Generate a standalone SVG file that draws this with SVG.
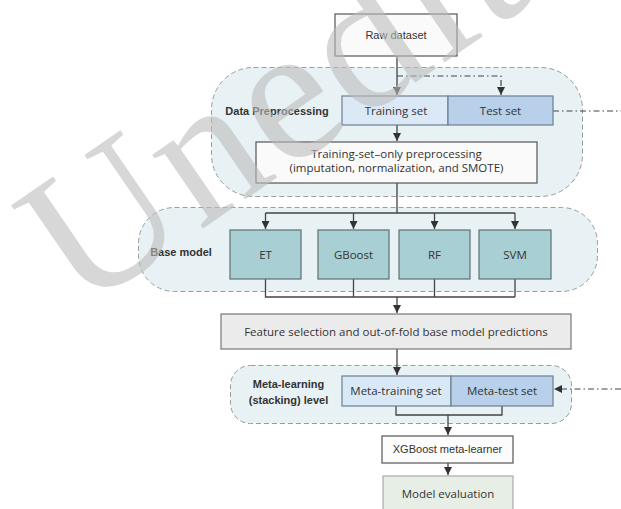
<svg xmlns="http://www.w3.org/2000/svg" width="621" height="509" viewBox="0 0 621 509">
<defs>
<marker id="ah" viewBox="0 0 10 10" refX="10" refY="5" markerWidth="8" markerHeight="8" markerUnits="userSpaceOnUse" orient="auto">
<path d="M0,0 L10,5 L0,10 z" fill="#333"/>
</marker>
<style>
.cl{fill:#e8f1f3;stroke:#9a9a9a;stroke-width:1;stroke-dasharray:5 3}
.ln{fill:none;stroke:#444;stroke-width:1.3}
.dd{fill:none;stroke:#444;stroke-width:1.2;stroke-dasharray:6 3 1.5 3}
.bx{stroke:#555;stroke-width:1.2}
.t{font-family:"Open Sans","Noto Sans",sans-serif;font-size:11.5px;fill:#333;text-anchor:middle}
.a{font-family:"Liberation Sans",Arial,sans-serif;font-size:11px;fill:#333;text-anchor:middle}
.b{font-family:"Liberation Sans",Arial,sans-serif;font-size:11px;font-weight:bold;fill:#333;text-anchor:middle}
.wm{font-family:"Liberation Serif","Times New Roman",serif;font-size:195px;letter-spacing:4px;fill:#bdbdbd;opacity:0.6}
</style>
</defs>
<rect width="621" height="509" fill="#fff"/>

<g id="cluster-preprocessing">
<rect class="cl" x="211.5" y="67.5" width="371" height="129" rx="42"/>
<text class="b" x="277" y="115">Data Preprocessing</text>
</g>
<g id="cluster-base">
<rect class="cl" x="138.5" y="207.5" width="459" height="84" rx="36"/>
<text class="b" x="181" y="256">Base model</text>
</g>
<g id="cluster-meta">
<rect class="cl" x="230.5" y="365.5" width="341" height="58" rx="20"/>
<text class="b" x="288.5" y="388">Meta-learning</text>
<text class="b" x="288.5" y="404">(stacking) level</text>
</g>

<g id="connectors">
<path class="ln" d="M397,56 V95" marker-end="url(#ah)"/>
<path class="dd" d="M397,76 H501 V95" marker-end="url(#ah)"/>
<path class="dd" d="M553,111 H621"/>
<path class="ln" d="M397,125 V141" marker-end="url(#ah)"/>
<path class="ln" d="M397,183 V213 M265.5,213 H515"/>
<path class="ln" d="M265.5,213 V229" marker-end="url(#ah)"/>
<path class="ln" d="M353.5,213 V229" marker-end="url(#ah)"/>
<path class="ln" d="M434.5,213 V229" marker-end="url(#ah)"/>
<path class="ln" d="M515,213 V229" marker-end="url(#ah)"/>
<path class="ln" d="M265.5,279 V297 H515 M353.5,279 V297 M434.5,279 V297 M515,279 V297"/>
<path class="ln" d="M397,297 V313" marker-end="url(#ah)"/>
<path class="ln" d="M397,349 V375" marker-end="url(#ah)"/>
<path class="dd" d="M621,389 H554" marker-end="url(#ah)"/>
<path class="ln" d="M396,406 V415 H502 V406"/>
<path class="ln" d="M448,415 V435" marker-end="url(#ah)"/>
<path class="ln" d="M448,463 V475" marker-end="url(#ah)"/>
</g>

<g id="raw-dataset">
<rect class="bx" x="335" y="14" width="122" height="42" fill="#fafafa"/>
<text class="a" x="396" y="39">Raw dataset</text>
</g>
<g id="training-set">
<rect x="342" y="96" width="106" height="29" fill="#dbe9f7" stroke="#6d7f92" stroke-width="1.2"/>
<text class="t" x="396" y="115">Training set</text>
</g>
<g id="test-set">
<rect x="448" y="96" width="105" height="29" fill="#b8d0e9" stroke="#6d7f92" stroke-width="1.2"/>
<text class="t" x="500.5" y="115">Test set</text>
</g>
<g id="preprocessing">
<rect class="bx" x="256" y="142" width="281" height="41" fill="#fafafa"/>
<text class="t" x="396.5" y="158">Training-set–only preprocessing</text>
<text class="t" x="396.5" y="172">(imputation, normalization, and SMOTE)</text>
</g>
<g id="et">
<rect x="230" y="230" width="71" height="49" fill="#a8cfd3" stroke="#5e7173" stroke-width="1.2"/>
<text class="t" x="265.5" y="259">ET</text>
</g>
<g id="gboost">
<rect x="318" y="230" width="71" height="49" fill="#a8cfd3" stroke="#5e7173" stroke-width="1.2"/>
<text class="t" x="353.5" y="259">GBoost</text>
</g>
<g id="rf">
<rect x="399" y="230" width="71" height="49" fill="#a8cfd3" stroke="#5e7173" stroke-width="1.2"/>
<text class="t" x="434.5" y="259">RF</text>
</g>
<g id="svm">
<rect x="479" y="230" width="72" height="49" fill="#a8cfd3" stroke="#5e7173" stroke-width="1.2"/>
<text class="t" x="515" y="259">SVM</text>
</g>
<g id="feature-selection">
<rect x="221" y="314" width="350" height="35" fill="#ebebeb" stroke="#777" stroke-width="1.2"/>
<text class="t" x="396" y="336">Feature selection and out-of-fold base model predictions</text>
</g>
<g id="meta-training">
<rect x="342" y="376" width="109" height="30" fill="#d9e8f7" stroke="#6d7f92" stroke-width="1.2"/>
<text class="t" x="396" y="395">Meta-training set</text>
</g>
<g id="meta-test">
<rect x="451" y="376" width="102" height="30" fill="#b8d0e9" stroke="#6d7f92" stroke-width="1.2"/>
<text class="t" x="502" y="395">Meta-test set</text>
</g>
<g id="xgboost">
<rect class="bx" x="382" y="436" width="131" height="27" fill="#fcfcfc"/>
<text class="a" x="447.5" y="453">XGBoost meta-learner</text>
</g>
<g id="model-evaluation">
<rect x="383" y="476" width="130" height="40" fill="#e7eee6" stroke="#aaa" stroke-width="1.2"/>
<text class="t" x="448" y="498">Model evaluation</text>
</g>

<text class="wm" transform="translate(80,313) rotate(-34.5)">Unedited</text>
</svg>
